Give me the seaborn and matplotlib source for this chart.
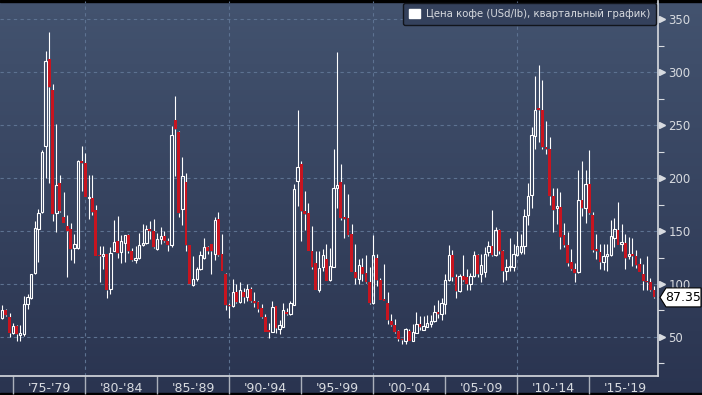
import numpy as np
import pandas as pd
import matplotlib
matplotlib.use('Agg')
import matplotlib.pyplot as plt
import seaborn as sns
from matplotlib.patches import Patch, Polygon, Rectangle
from matplotlib.colors import LinearSegmentedColormap
from matplotlib.transforms import blended_transform_factory, offset_copy

# quarterly coffee prices (USd/lb), 1974Q1 .. 2019Q2
opens = [68, 75, 69, 54, 60, 52, 53, 81, 87, 110, 152, 168, 230, 312, 283, 167, 195, 163, 155, 152,
         134, 134, 216, 214, 181, 181, 170, 127, 126, 128, 95, 131, 141, 130, 139, 146, 131, 123, 125, 137,
         139, 152, 150, 133, 142, 145, 141, 137, 255, 243, 171, 196, 137, 99, 105, 114, 125, 135, 138, 128,
         161, 128, 109, 80, 79, 92, 83, 92, 88, 95, 84, 83, 77, 69, 57, 55, 79, 58, 59, 74,
         72, 80, 197, 213, 169, 167, 131, 120, 94, 116, 124, 104, 116, 191, 196, 163, 162, 147, 111, 105,
         116, 110, 102, 82, 125, 104, 86, 82, 65, 61, 56, 48, 46, 56, 46, 54, 62, 57, 59, 62,
         65, 74, 72, 81, 104, 127, 107, 93, 108, 107, 100, 108, 127, 109, 111, 130, 136, 127, 151, 131,
         112, 116, 116, 127, 130, 136, 165, 184, 240, 266, 264, 229, 227, 183, 172, 173, 146, 137, 121, 114,
         111, 179, 172, 194, 165, 133, 130, 121, 126, 127, 143, 151, 138, 139, 126, 128, 126, 119, 109, 103,
         102, 94]
highs = [80, 76, 73, 63, 61, 61, 89, 91, 109, 159, 171, 226, 320, 338, 289, 251, 203, 187, 165, 158,
         147, 217, 230, 224, 203, 203, 175, 136, 136, 128, 135, 160, 164, 146, 146, 147, 134, 136, 148, 157,
         156, 159, 161, 148, 154, 150, 143, 249, 277, 244, 220, 205, 137, 126, 116, 131, 143, 136, 138, 163,
         168, 147, 110, 82, 105, 100, 102, 96, 100, 97, 92, 84, 81, 72, 63, 84, 79, 66, 82, 77,
         84, 194, 264, 216, 188, 176, 155, 131, 131, 133, 138, 134, 227, 319, 213, 194, 185, 157, 138, 124,
         125, 127, 116, 146, 128, 106, 119, 92, 72, 67, 57, 48.5, 58.5, 58, 62, 74, 70, 70, 71, 71,
         80, 85, 87, 109, 137, 132, 109, 109, 127, 114, 110, 131, 128, 128, 135, 141, 170, 154, 152, 132,
         124, 143, 138, 150, 147, 171, 195, 248, 296, 307, 292, 254, 239, 191, 191, 187, 158, 149, 133, 120,
         208, 216, 208, 226, 168, 147, 138, 138, 138, 160, 162, 177, 157, 147, 144, 143, 132, 125, 119, 126,
         106, 98]
lows = [67, 70, 50, 53, 46, 46, 51, 76, 86, 109, 121, 167, 200, 195, 159, 149, 168, 158, 107, 123,
        120, 133, 188, 182, 161, 165, 126, 102, 114, 87, 91, 131, 125, 120, 121, 129, 122, 120, 124, 136,
        138, 142, 134, 132, 138, 140, 131, 135, 202, 163, 156, 131, 100, 98, 103, 113, 124, 128, 109, 123,
        126, 112, 75, 68, 78, 82, 82, 82, 84, 83, 78, 74, 68, 55, 49, 55, 54, 53, 59, 71,
        71, 80, 174, 141, 151, 131, 114, 94, 92, 112, 103, 103, 116, 172, 160, 143, 145, 111, 100, 100,
        103, 101, 81, 81, 98, 85, 84, 62, 60, 54, 46, 43, 43, 46, 46, 54, 57, 56.6, 59, 59,
        64, 68, 66, 72, 103, 103, 87, 92, 103, 94, 94, 107, 107, 102, 107, 126, 126, 126, 128, 102,
        104, 112, 112, 126, 128, 128, 156, 172, 227, 234, 227, 223, 175, 149, 157, 133, 135, 117, 113, 102,
        110, 164, 158, 166, 130, 124, 114, 113, 112, 126, 135, 137, 131, 114, 124, 117, 115, 111, 94, 94,
        93, 87]
closes = [75, 71, 54, 60, 53, 54, 81, 88, 109, 153, 167, 225, 310, 286, 166, 193, 169, 158, 150, 133,
          138, 216, 214, 182, 182, 168, 126, 126, 128, 94, 129, 140, 129, 141, 146, 131, 123, 124.5, 137, 139,
          152, 150, 135, 142.5, 145, 141, 137, 241, 246, 167, 202, 137, 100, 105, 114, 127, 135, 131, 131, 160,
          127, 112.6, 80, 79, 92, 83, 94, 88, 95, 84, 82, 76, 69, 55, 55, 78, 58.5, 61, 75, 72,
          82, 190, 210, 169, 166, 131, 116, 94, 115, 127, 103, 117, 191, 193, 162, 161, 146, 111, 106, 118,
          109, 102, 82, 127, 104, 85, 84, 66, 61, 55, 48, 47, 57.5, 46, 54.4, 62, 59, 60, 63, 65,
          74, 72, 82, 104, 127, 107, 93, 108, 104, 100, 108, 127, 109, 118, 128, 136, 127, 151, 131, 112,
          116, 117, 128, 136, 136, 164, 183, 241, 264, 264, 229, 227, 183, 170, 174, 144, 137, 120, 114, 110,
          179, 172, 194, 167, 132, 131, 121, 126, 128, 145, 152, 137, 140, 124.5, 128, 126, 118, 111, 103, 102,
          94, 87.35]

period_labels = ["'75-'79", "'80-'84", "'85-'89", "'90-'94", "'95-'99",
                 "'00-'04", "'05-'09", "'10-'14", "'15-'19"]
legend_label = 'Цена кофе (USd/lb), квартальный график)'

df = pd.DataFrame({'open': opens, 'high': highs, 'low': lows, 'close': closes})
df['period'] = pd.period_range('1974Q1', periods=len(df), freq='Q')
df['x'] = np.arange(len(df))
df['up'] = df['close'] >= df['open']
df['top'] = df[['open', 'close']].max(axis=1)
df['bot'] = df[['open', 'close']].min(axis=1)

# year-end quarters used for separators / grid
q4 = df[(df.period.dt.quarter == 4) & ((df.period.dt.year + 1) % 5 == 0)]
seps = q4['x'].values
vgrid = q4[(q4.period.dt.year + 1) % 10 == 0]['x'].values
label_pos = seps + 10

sns.set_theme(style='dark')
plt.rcParams['font.family'] = ['DejaVu Sans']

bg_top, bg_bot = '#43536f', '#2a3450'
light = '#d8dbe0'
red = '#c8141f'
grid_c = '#5d7291'

W, H = 702, 395
fig = plt.figure(figsize=(W / 100, H / 100), dpi=100)

bg = fig.add_axes([0, 0, 1, 1], zorder=-10)
cmap = LinearSegmentedColormap.from_list('bg', [bg_top, bg_bot])
bg.imshow(np.linspace(0, 1, 256).reshape(-1, 1), cmap=cmap, aspect='auto', extent=[0, 1, 0, 1])
bg.add_patch(Rectangle((0, 1 - 2 / H), 1, 2 / H, color='black', transform=bg.transAxes))
bg.add_patch(Rectangle((0, 0), 1, 2 / H, color='black', transform=bg.transAxes))
bg.axis('off')

ax = fig.add_axes([0, 19 / H, 658 / W, 375 / H])
ax.set_facecolor('none')

# grid
for v in range(50, 351, 50):
    ax.axhline(v, color=grid_c, lw=0.8, ls=(0, (3, 3)), zorder=1)
for g in vgrid:
    ax.axvline(g, color=grid_c, lw=0.8, ls=(0, (3, 3)), zorder=1)

# wicks
ax.vlines(df['x'], df['top'], df['high'], color='white', lw=0.8, zorder=2)
ax.vlines(df['x'], df['low'], df['bot'], color='white', lw=0.8, zorder=2)

up = df[df.up]
dn = df[~df.up]
ax.bar(up['x'], up['top'] - up['bot'], bottom=up['bot'], width=0.66,
       facecolor='none', edgecolor='white', linewidth=0.8, zorder=3)
ax.bar(dn['x'], dn['top'] - dn['bot'], bottom=dn['bot'], width=0.8,
       color=red, linewidth=0, zorder=3)

ax.set_xlim(-0.64, 182.1)
ax.set_ylim(13.2, 367)

# axes / spines
for s in ['left', 'top']:
    ax.spines[s].set_visible(False)
for s in ['right', 'bottom']:
    ax.spines[s].set_color(light)
    ax.spines[s].set_linewidth(1.2)

ax.yaxis.tick_right()
ax.set_yticks(range(50, 351, 50))
ax.set_yticks(range(25, 351, 50), minor=True)
ax.tick_params(axis='y', which='major', length=0, pad=7.5, labelsize=8.5, labelcolor=light)
ax.tick_params(axis='y', which='minor', length=4, width=0.8, color=light, direction='out', right=True)

ax.set_xticks(seps, minor=True)
ax.set_xticks(label_pos, labels=period_labels)
ax.tick_params(axis='x', which='minor', length=13, width=1, color='#aab0bb', direction='out', bottom=True)
ax.tick_params(axis='x', which='major', length=0, pad=4, labelsize=9, labelcolor=light)

# right tick triangles
trans = offset_copy(blended_transform_factory(ax.transAxes, ax.transData), fig=fig, x=3.5, y=0, units='dots')
yt = np.arange(50, 351, 50)
ax.plot(np.ones(len(yt)), yt, ls='none', marker='>', markersize=4.5, color=light,
        transform=trans, clip_on=False)

# legend
handle = Patch(facecolor='white', edgecolor='white')
leg = ax.legend([handle], [legend_label], loc='upper right', bbox_to_anchor=(1.0, 1.0),
                fontsize=7.3, frameon=True, fancybox=True, facecolor='#34415c', edgecolor='#12151c',
                framealpha=1, handlelength=1.1, handleheight=1.1, handletextpad=0.6,
                borderpad=0.6, borderaxespad=0.15)
for t in leg.get_texts():
    t.set_color(light)

# last price tag
last = closes[-1]
fig.canvas.draw()
x0, y0 = ax.transData.transform((ax.get_xlim()[1], last))
tag = Polygon([(x0 + 2, y0), (x0 + 8, y0 + 9.5), (x0 + 43, y0 + 9.5),
               (x0 + 43, y0 - 9.5), (x0 + 8, y0 - 9.5)],
              closed=True, facecolor='white', edgecolor='black', lw=0.8,
              transform=None, clip_on=False)
fig.patches.append(tag)
fig.text((x0 + 25) / W, y0 / H, f'{last:.2f}', ha='center', va='center',
         fontsize=9, color='black')

fig.savefig('out.png', dpi=100)
